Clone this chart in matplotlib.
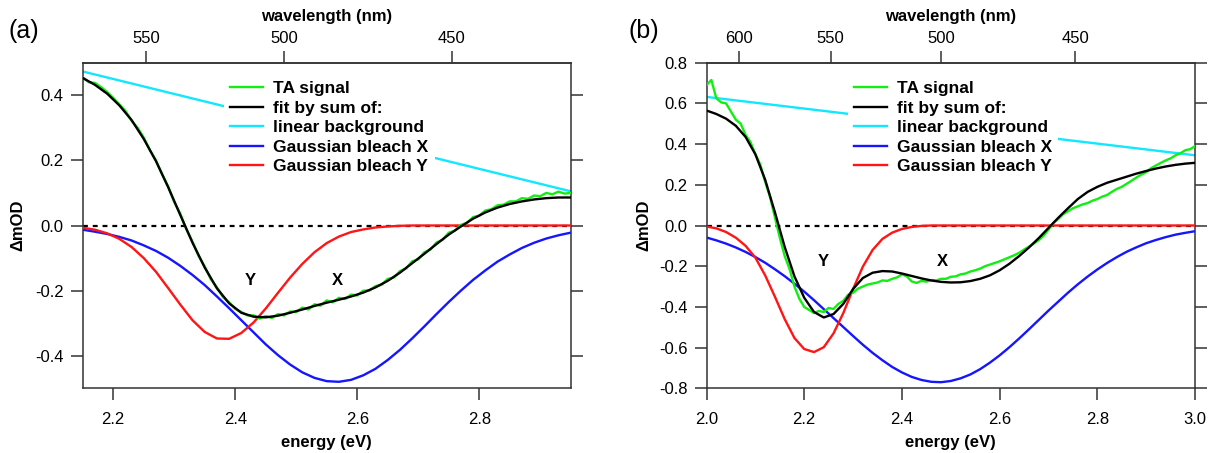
import matplotlib
matplotlib.use("Agg")
import matplotlib.pyplot as plt
from matplotlib.ticker import FormatStrFormatter

plt.rcParams['font.family'] = ['Liberation Sans', 'DejaVu Sans']
plt.rcParams['axes.unicode_minus'] = False

HC = 1239.84  # eV*nm

# ---------------- panel (a) ----------------
energy_a = [2.15, 2.17, 2.19, 2.21, 2.23, 2.25, 2.27, 2.29, 2.31, 2.33, 2.35,
            2.37, 2.39, 2.41, 2.43, 2.45, 2.47, 2.49, 2.51, 2.53, 2.55, 2.57,
            2.59, 2.61, 2.63, 2.65, 2.67, 2.69, 2.71, 2.73, 2.75, 2.77, 2.79,
            2.81, 2.83, 2.85, 2.87, 2.89, 2.91, 2.93, 2.95]
fit_a = [0.453, 0.432, 0.405, 0.369, 0.324, 0.266, 0.198, 0.118, 0.032, -0.053,
         -0.129, -0.193, -0.239, -0.268, -0.280, -0.282, -0.277, -0.268, -0.258,
         -0.247, -0.237, -0.228, -0.218, -0.206, -0.190, -0.170, -0.145, -0.116,
         -0.087, -0.057, -0.028, -0.003, 0.021, 0.040, 0.055, 0.066, 0.074,
         0.080, 0.084, 0.086, 0.086]
bleach_x_a = [-0.013, -0.019, -0.026, -0.035, -0.046, -0.061, -0.078, -0.099,
              -0.124, -0.152, -0.183, -0.218, -0.254, -0.291, -0.328, -0.365,
              -0.398, -0.427, -0.451, -0.468, -0.478, -0.480, -0.474, -0.460,
              -0.440, -0.413, -0.382, -0.347, -0.310, -0.272, -0.235, -0.200,
              -0.167, -0.138, -0.111, -0.089, -0.069, -0.053, -0.040, -0.030,
              -0.022]
bleach_y_a = [-0.007, -0.013, -0.024, -0.041, -0.066, -0.100, -0.142, -0.192,
              -0.243, -0.291, -0.327, -0.347, -0.348, -0.330, -0.298, -0.255,
              -0.207, -0.160, -0.118, -0.082, -0.054, -0.034, -0.020, -0.012,
              -0.006, -0.003, -0.001, 0.0, 0.0, 0.0, 0.0, 0.0, 0.0, 0.0, 0.0,
              0.0, 0.0, 0.0, 0.0, 0.0, 0.0]
bg_energy_a = [2.15, 2.95]
bg_a = [0.473, 0.105]

ta_energy_a = [2.15, 2.16, 2.17, 2.18, 2.19, 2.20, 2.21, 2.22, 2.23, 2.24, 2.25,
               2.26, 2.27, 2.28, 2.29, 2.30, 2.31, 2.32, 2.33, 2.34, 2.35, 2.36,
               2.37, 2.38, 2.39, 2.40, 2.41, 2.42, 2.43, 2.44, 2.45, 2.46, 2.47,
               2.48, 2.49, 2.50, 2.51, 2.52, 2.53, 2.54, 2.55, 2.56, 2.57, 2.58,
               2.59, 2.60, 2.61, 2.62, 2.63, 2.64, 2.65, 2.66, 2.67, 2.68, 2.69,
               2.70, 2.71, 2.72, 2.73, 2.74, 2.75, 2.76, 2.77, 2.78, 2.79, 2.80,
               2.81, 2.82, 2.83, 2.84, 2.85, 2.86, 2.87, 2.88, 2.89, 2.90, 2.91,
               2.92, 2.93, 2.94, 2.95]
ta_a = [0.455, 0.440, 0.438, 0.425, 0.410, 0.392, 0.372, 0.352, 0.322, 0.300,
        0.270, 0.232, 0.200, 0.158, 0.120, 0.072, 0.036, -0.012, -0.050, -0.094,
        -0.126, -0.165, -0.190, -0.220, -0.236, -0.256, -0.266, -0.276, -0.276,
        -0.286, -0.278, -0.284, -0.272, -0.276, -0.264, -0.266, -0.252, -0.258,
        -0.242, -0.246, -0.230, -0.236, -0.222, -0.226, -0.212, -0.215, -0.200,
        -0.200, -0.186, -0.182, -0.164, -0.160, -0.140, -0.132, -0.110, -0.104,
        -0.082, -0.074, -0.052, -0.044, -0.022, -0.016, 0.002, 0.008, 0.026,
        0.030, 0.046, 0.050, 0.062, 0.064, 0.074, 0.074, 0.084, 0.082, 0.092,
        0.090, 0.100, 0.096, 0.104, 0.098, 0.100]

# ---------------- panel (b) ----------------
energy_b = [2.00, 2.02, 2.04, 2.06, 2.08, 2.10, 2.12, 2.14, 2.16, 2.18, 2.20,
            2.22, 2.24, 2.26, 2.28, 2.30, 2.32, 2.34, 2.36, 2.38, 2.40, 2.42,
            2.44, 2.46, 2.48, 2.50, 2.52, 2.54, 2.56, 2.58, 2.60, 2.62, 2.64,
            2.66, 2.68, 2.70, 2.72, 2.74, 2.76, 2.78, 2.80, 2.82, 2.84, 2.86,
            2.88, 2.90, 2.92, 2.94, 2.96, 2.98, 3.00]
fit_b = [0.565, 0.548, 0.525, 0.490, 0.435, 0.350, 0.225, 0.065, -0.105, -0.250,
         -0.355, -0.425, -0.452, -0.435, -0.385, -0.312, -0.258, -0.232, -0.224,
         -0.226, -0.236, -0.248, -0.260, -0.270, -0.277, -0.280, -0.279, -0.273,
         -0.262, -0.245, -0.220, -0.188, -0.150, -0.108, -0.062, -0.012, 0.038,
         0.085, 0.130, 0.165, 0.190, 0.210, 0.225, 0.240, 0.255, 0.268, 0.280,
         0.290, 0.298, 0.304, 0.308]
bleach_x_b = [-0.059, -0.073, -0.089, -0.108, -0.130, -0.155, -0.183, -0.215,
              -0.249, -0.286, -0.325, -0.367, -0.411, -0.455, -0.499, -0.543,
              -0.586, -0.626, -0.662, -0.695, -0.722, -0.744, -0.759, -0.768,
              -0.770, -0.764, -0.751, -0.732, -0.706, -0.674, -0.638, -0.598,
              -0.555, -0.510, -0.464, -0.418, -0.374, -0.330, -0.289, -0.251,
              -0.216, -0.184, -0.155, -0.129, -0.107, -0.087, -0.071, -0.057,
              -0.045, -0.036, -0.028]
bleach_y_b = [-0.005, -0.014, -0.032, -0.060, -0.100, -0.158, -0.245, -0.350,
              -0.460, -0.553, -0.607, -0.622, -0.598, -0.530, -0.430, -0.312,
              -0.202, -0.120, -0.066, -0.035, -0.017, -0.007, -0.002, 0.0, 0.0,
              0.0, 0.0, 0.0, 0.0, 0.0, 0.0, 0.0, 0.0, 0.0, 0.0, 0.0, 0.0, 0.0,
              0.0, 0.0, 0.0, 0.0, 0.0, 0.0, 0.0, 0.0, 0.0, 0.0, 0.0, 0.0, 0.0]
bg_energy_b = [2.00, 3.00]
bg_b = [0.632, 0.345]

ta_energy_b = [2.00, 2.01, 2.02, 2.03, 2.04, 2.05, 2.06, 2.07, 2.08, 2.09, 2.10,
               2.11, 2.12, 2.13, 2.14, 2.15, 2.16, 2.17, 2.18, 2.19, 2.20, 2.21,
               2.22, 2.23, 2.24, 2.25, 2.26, 2.27, 2.28, 2.29, 2.30, 2.31, 2.32,
               2.33, 2.34, 2.35, 2.36, 2.37, 2.38, 2.39, 2.40, 2.41, 2.42, 2.43,
               2.44, 2.45, 2.46, 2.47, 2.48, 2.49, 2.50, 2.51, 2.52, 2.53, 2.54,
               2.55, 2.56, 2.57, 2.58, 2.59, 2.60, 2.61, 2.62, 2.63, 2.64, 2.65,
               2.66, 2.67, 2.68, 2.69, 2.70, 2.71, 2.72, 2.73, 2.74, 2.75, 2.76,
               2.77, 2.78, 2.79, 2.80, 2.81, 2.82, 2.83, 2.84, 2.85, 2.86, 2.87,
               2.88, 2.89, 2.90, 2.91, 2.92, 2.93, 2.94, 2.95, 2.96, 2.97, 2.98,
               2.99, 3.00]
ta_b = [0.690, 0.715, 0.625, 0.605, 0.600, 0.560, 0.520, 0.500, 0.445, 0.410,
        0.350, 0.300, 0.215, 0.140, 0.040, -0.060, -0.150, -0.214, -0.300,
        -0.360, -0.400, -0.415, -0.430, -0.420, -0.425, -0.405, -0.410, -0.385,
        -0.370, -0.340, -0.330, -0.310, -0.300, -0.290, -0.285, -0.280, -0.270,
        -0.272, -0.262, -0.255, -0.240, -0.250, -0.275, -0.282, -0.272, -0.276,
        -0.268, -0.270, -0.262, -0.262, -0.252, -0.250, -0.240, -0.236, -0.226,
        -0.220, -0.212, -0.200, -0.192, -0.184, -0.176, -0.166, -0.156, -0.146,
        -0.134, -0.118, -0.104, -0.088, -0.072, -0.050, -0.020, 0.012, 0.032,
        0.056, 0.070, 0.085, 0.094, 0.104, 0.110, 0.122, 0.130, 0.142, 0.150,
        0.166, 0.180, 0.190, 0.205, 0.220, 0.236, 0.250, 0.262, 0.282, 0.295,
        0.308, 0.320, 0.330, 0.345, 0.355, 0.370, 0.375, 0.390]

labels = ["TA signal", "fit by sum of:", "linear background",
          "Gaussian bleach X", "Gaussian bleach Y"]
wl_ticks_a = [550, 500, 450]
wl_ticks_b = [600, 550, 500, 450]
peak_pos_a = {"Y": (2.424, -0.17), "X": (2.567, -0.17)}
peak_pos_b = {"Y": (2.239, -0.177), "X": (2.482, -0.177)}

C_TA = "#11ee11"
C_FIT = "black"
C_BG = "#11e8ff"
C_X = "#1515ff"
C_Y = "#ff1515"
C_AX = "#333333"


def panel(ax, e, fit, bx, by, ebg, bg, eta, ta, xlim, ylim, yticks, wl_ticks,
          peaks, tag, ylab_x, tag_x):
    ax.axhline(0, color="black", lw=1.6, ls=(0, (2.2, 2.2)), zorder=1)
    l_bg, = ax.plot(ebg, bg, color=C_BG, lw=1.7, zorder=2)
    l_x, = ax.plot(e, bx, color=C_X, lw=1.7, zorder=3)
    l_y, = ax.plot(e, by, color=C_Y, lw=1.7, zorder=3)
    l_ta, = ax.plot(eta, ta, color=C_TA, lw=1.7, zorder=4)
    l_fit, = ax.plot(e, fit, color=C_FIT, lw=1.7, zorder=5)
    ax.set_xlim(*xlim)
    ax.set_ylim(*ylim)
    ax.set_yticks(yticks)
    ax.yaxis.set_major_formatter(FormatStrFormatter("%.1f"))
    ax.xaxis.set_major_formatter(FormatStrFormatter("%.1f"))
    ax.tick_params(direction="out", length=8.6, width=1.1, labelsize=12,
                   right=True, top=False, labelright=False, color=C_AX)
    ax.tick_params(axis="x", pad=8.5)
    ax.tick_params(axis="y", pad=5)
    for s in ax.spines.values():
        s.set_linewidth(1.1)
        s.set_color(C_AX)
    ax.set_xlabel("energy (eV)", fontsize=12, fontweight="bold", labelpad=5.5)
    ax.set_ylabel("\u0394mOD", fontsize=12, fontweight="bold")
    ax.yaxis.set_label_coords(ylab_x, 0.5)

    sec = ax.secondary_xaxis("top", functions=(lambda x: HC / x, lambda x: HC / x))
    sec.set_xticks(wl_ticks)
    sec.tick_params(direction="out", length=8.6, width=1.1, labelsize=12,
                    color=C_AX, pad=3.5)
    sec.spines["top"].set_linewidth(1.1)
    sec.spines["top"].set_color(C_AX)
    sec.set_xlabel("wavelength (nm)", fontsize=12, fontweight="bold", labelpad=7)

    for name, (xe, yv) in peaks.items():
        ax.text(xe, yv, name, fontsize=12, fontweight="bold",
                ha="center", va="center", zorder=6)

    leg = ax.legend([l_ta, l_fit, l_bg, l_x, l_y], labels,
                    loc="upper left", bbox_to_anchor=(0.29, 0.9616),
                    frameon=True, fancybox=False, framealpha=1.0,
                    facecolor="white", edgecolor="none",
                    prop={"weight": "bold", "size": 12.5},
                    handlelength=1.9, handletextpad=0.57, labelspacing=0.25,
                    borderpad=0.35, borderaxespad=0)
    leg.set_zorder(4.5)

    ax.text(tag_x, 1.097, tag, transform=ax.transAxes, fontsize=18,
            ha="left", va="center")


fig = plt.figure(figsize=(12.15, 4.53), dpi=100)
ax_a = fig.add_axes([0.0681, 0.1428, 0.4016, 0.7188])
ax_b = fig.add_axes([0.5815, 0.1428, 0.4021, 0.7188])

panel(ax_a, energy_a, fit_a, bleach_x_a, bleach_y_a, bg_energy_a, bg_a,
      ta_energy_a, ta_a, (2.15, 2.95), (-0.5, 0.5),
      [-0.4, -0.2, 0.0, 0.2, 0.4], wl_ticks_a, peak_pos_a, "(a)",
      -0.118, -0.153)
panel(ax_b, energy_b, fit_b, bleach_x_b, bleach_y_b, bg_energy_b, bg_b,
      ta_energy_b, ta_b, (2.0, 3.0), (-0.8, 0.8),
      [-0.8, -0.6, -0.4, -0.2, 0.0, 0.2, 0.4, 0.6, 0.8], wl_ticks_b,
      peak_pos_b, "(b)", -0.112, -0.159)
ax_a.set_xticks([2.2, 2.4, 2.6, 2.8])
ax_b.set_xticks([2.0, 2.2, 2.4, 2.6, 2.8, 3.0])

fig.savefig("out.png", dpi=100)
